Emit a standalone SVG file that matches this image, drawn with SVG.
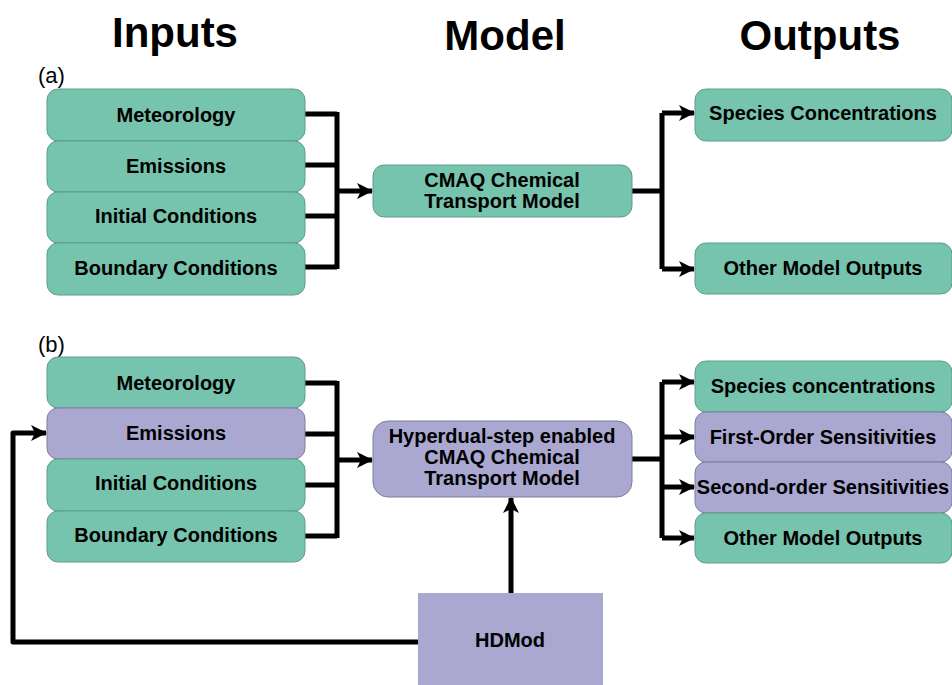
<svg xmlns="http://www.w3.org/2000/svg" width="952" height="685" viewBox="0 0 952 685">
<style>
.g{fill:#76c4ad;stroke:#5e9c89;stroke-width:1}
.p{fill:#aaa8d1;stroke:#7f7da0;stroke-width:1}
.t{font-family:"Liberation Sans",Arial,sans-serif;font-weight:bold;font-size:20px;fill:#000;text-anchor:middle;dominant-baseline:central}
.h{font-family:"Liberation Sans",Arial,sans-serif;font-weight:bold;font-size:42px;fill:#000;text-anchor:middle}
.l{font-family:"Liberation Sans",Arial,sans-serif;font-size:22px;fill:#000}
.c{fill:none;stroke:#000;stroke-width:5;stroke-linejoin:round}
</style>
<defs>
<marker id="ar" viewBox="0 0 16 16" refX="15" refY="8" markerWidth="16" markerHeight="16" markerUnits="userSpaceOnUse" orient="auto">
<path d="M0,0 L16,8 L0,16 L4,8 Z" fill="#000"/>
</marker>
</defs>
<rect width="952" height="685" fill="#fff"/>
<g id="titles">
<text class="h" x="175" y="47">Inputs</text>
<text class="h" x="505" y="50">Model</text>
<text class="h" x="820" y="50">Outputs</text>
<text class="l" x="38" y="83">(a)</text>
<text class="l" x="38" y="352">(b)</text>
</g>
<g id="connectors">
<path class="c" d="M305,114 H337 M305,165 H337 M305,216 H337 M305,267 H337 M337,112 V269"/>
<path class="c" d="M337,191 H372" marker-end="url(#ar)"/>
<path class="c" d="M632,191 H662 M662,113 V269"/>
<path class="c" d="M662,113 H694" marker-end="url(#ar)"/>
<path class="c" d="M662,269 H694" marker-end="url(#ar)"/>
<path class="c" d="M305,383 H337 M305,434 H337 M305,485 H337 M305,536 H337 M337,381 V538"/>
<path class="c" d="M337,460 H372" marker-end="url(#ar)"/>
<path class="c" d="M632,459 H662 M662,382 V538"/>
<path class="c" d="M662,382 H694" marker-end="url(#ar)"/>
<path class="c" d="M662,437 H694" marker-end="url(#ar)"/>
<path class="c" d="M662,487 H694" marker-end="url(#ar)"/>
<path class="c" d="M662,538 H694" marker-end="url(#ar)"/>
<path class="c" d="M511,593 V498" marker-end="url(#ar)"/>
<path class="c" d="M418,642 H13 V433 H46" marker-end="url(#ar)"/>
</g>
<g id="a-meteorology"><rect class="g" x="47" y="89" width="258" height="52" rx="11"/><text class="t" x="176" y="115">Meteorology</text></g>
<g id="a-emissions"><rect class="g" x="47" y="141" width="258" height="51" rx="11"/><text class="t" x="176" y="166">Emissions</text></g>
<g id="a-initial"><rect class="g" x="47" y="192" width="258" height="51" rx="11"/><text class="t" x="176" y="216">Initial Conditions</text></g>
<g id="a-boundary"><rect class="g" x="47" y="243" width="258" height="52" rx="11"/><text class="t" x="176" y="268">Boundary Conditions</text></g>
<g id="a-model"><rect class="g" x="373" y="165" width="259" height="52" rx="11"/><text class="t" x="502" y="180">CMAQ Chemical</text><text class="t" x="502" y="201">Transport Model</text></g>
<g id="a-species"><rect class="g" x="695" y="89" width="257" height="52" rx="11"/><text class="t" x="823" y="113">Species Concentrations</text></g>
<g id="a-other"><rect class="g" x="695" y="243" width="257" height="51" rx="11"/><text class="t" x="823" y="268">Other Model Outputs</text></g>
<g id="b-meteorology"><rect class="g" x="47" y="357" width="258" height="51" rx="11"/><text class="t" x="176" y="383">Meteorology</text></g>
<g id="b-emissions"><rect class="p" x="47" y="408" width="258" height="51" rx="11"/><text class="t" x="176" y="433">Emissions</text></g>
<g id="b-initial"><rect class="g" x="47" y="459" width="258" height="52" rx="11"/><text class="t" x="176" y="483">Initial Conditions</text></g>
<g id="b-boundary"><rect class="g" x="47" y="511" width="258" height="51" rx="11"/><text class="t" x="176" y="535">Boundary Conditions</text></g>
<g id="b-model"><rect class="p" x="373" y="421" width="259" height="76" rx="15"/><text class="t" x="502" y="436">Hyperdual-step enabled</text><text class="t" x="502" y="457">CMAQ Chemical</text><text class="t" x="502" y="478">Transport Model</text></g>
<g id="b-species"><rect class="g" x="695" y="361" width="257" height="51" rx="11"/><text class="t" x="823" y="386">Species concentrations</text></g>
<g id="b-first"><rect class="p" x="695" y="412" width="257" height="50" rx="11"/><text class="t" x="823" y="437">First-Order Sensitivities</text></g>
<g id="b-second"><rect class="p" x="695" y="462" width="257" height="51" rx="11"/><text class="t" x="823" y="487">Second-order Sensitivities</text></g>
<g id="b-other"><rect class="g" x="695" y="513" width="257" height="50" rx="11"/><text class="t" x="823" y="538">Other Model Outputs</text></g>
<g id="hdmod"><rect x="418" y="593" width="185" height="92" fill="#aaa8d1"/><text class="t" x="510" y="640">HDMod</text></g>
</svg>
